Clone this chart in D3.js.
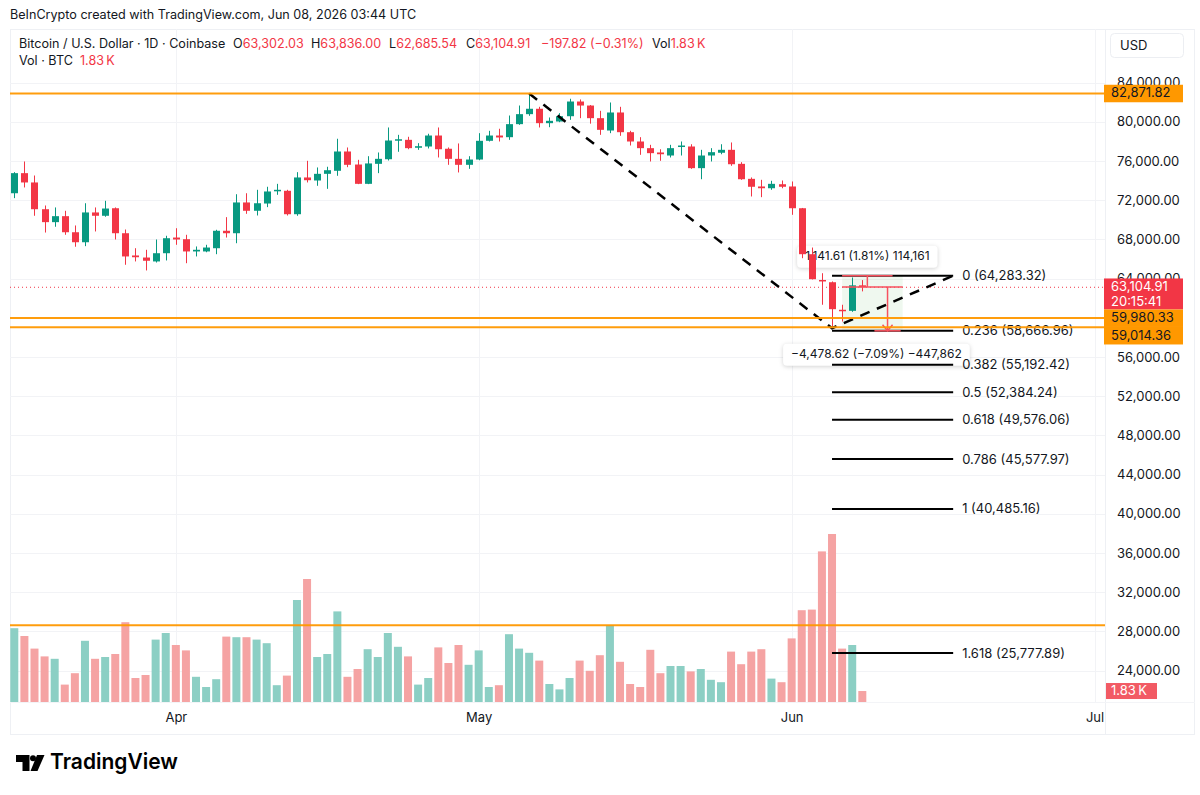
<!DOCTYPE html>
<html>
<head>
<meta charset="utf-8">
<script src="https://cdn.jsdelivr.net/npm/d3@7"></script>
<style>
  body { margin: 0; background: #fff; }
  svg { display: block; font-family: Inter, Roboto, "Noto Sans", sans-serif; }
</style>
</head>
<body>
<div id="chart"></div>
<script>
// daily candles, BTC/USD Coinbase, from Mar 16 2026 to Jun 08 2026
const startDate = Date.UTC(2026, 2, 16);
const opens = [72700,74750,73800,71070,69750,70360,68720,67700,70740,70400,71170,68620,66350,66140,65740,66580,68180,68010,66760,66760,
  67090,68870,68620,71760,70910,71650,72950,72950,70560,74310,74000,74680,74990,76960,75630,73660,75700,76170,78080,78150,
  77340,77470,78590,77240,76210,75600,76140,78050,78590,78420,79750,80770,81320,79850,80020,80560,82060,81650,80360,79100,
  80940,78930,77980,77300,76860,76550,77470,77470,75260,76550,76830,77130,75700,74170,73390,73210,73620,73390,71170,66480,
  63850,63620,60810,60700,63302.03];
const highs = [74850,75940,74510,71450,71250,70910,69410,71680,71250,71930,71250,69000,67090,66930,67980,68360,69130,68460,67270,67440,
  68970,70260,72600,72700,73050,73360,73660,73050,74850,76010,75330,75400,78260,77370,76110,76480,76860,79410,78660,78460,
  77810,78770,79410,77370,77780,76480,78830,79070,79280,80630,81650,82871.82,81520,80430,80870,82340,82270,81700,81110,81960,
  81520,79070,78420,77640,77190,77640,77980,77700,77130,77300,77700,77880,75870,74310,74070,73970,74000,73900,71200,67160,
  64540,63700,61320,64100,63836];
const lows = [72200,73290,70400,68690,69280,68460,67240,67300,68800,70300,67980,65400,65740,64820,65630,65840,67440,65560,66250,66680,
  66480,68180,67600,70600,70430,71280,72540,70430,70400,73800,73460,73150,74480,75360,73630,73630,74750,76040,76930,77190,
  77130,77270,76350,75600,74820,75190,76070,77980,77980,78150,79680,80600,79410,79440,79950,80190,80360,79800,78660,78830,
  78560,77570,76620,75940,76010,76350,76550,75190,74130,75940,76680,75500,74070,72370,72300,73050,73210,70500,66070,63900,
  61320,58930,59610,60600,62685.54];
const closes = [74750,73800,71070,69750,70360,68720,67700,70740,70400,71140,68620,66250,66170,65810,66580,68110,67980,66760,66930,67160,
  68870,68620,71760,70910,71680,72880,73050,70560,74310,74030,74680,75050,76960,75600,73660,75740,76210,78080,78210,77300,
  77500,78590,77190,76210,75600,76140,78050,78590,78390,79750,80770,81320,79850,80090,80560,82060,81650,80360,79170,80940,
  78930,77980,77300,76790,76680,77300,77570,75260,76550,76890,77130,75660,74130,73360,73210,73660,73360,71170,66480,63930,
  63750,60870,60740,63302.03,63104.91];
// volume in thousands of BTC
const volumes = [12.3,11.0,8.9,7.6,7.2,2.9,4.8,10.2,7.2,7.5,8.0,13.3,4.0,4.5,10.4,11.5,9.5,8.6,4.2,2.5,
  3.8,10.9,10.8,10.8,10.4,9.8,2.8,4.4,17.0,20.5,7.5,8.0,15.1,4.2,5.5,8.8,7.5,11.5,9.2,7.6,
  2.9,4.0,9.1,6.5,9.5,6.2,8.6,2.5,2.8,11.3,8.9,8.2,6.9,3.0,2.1,4.0,6.9,5.2,7.8,12.8,
  6.7,3.0,2.5,8.7,4.8,6.0,6.0,5.1,5.5,3.7,3.3,8.4,6.3,8.4,8.8,3.9,3.3,10.6,15.3,15.4,
  25.1,28.0,8.9,9.5,1.83];

const priceTicks = [84000,80000,76000,72000,68000,64000,56000,52000,48000,44000,40000,36000,32000,28000,24000];
const orangeLevels = [82871.82, 59980.33, 59014.36, 28610];
const labelledOrange = [82871.82, 59980.33, 59014.36];
const fibRatios = ["0","0.236","0.382","0.5","0.618","0.786","1","1.618"];
const fibPrices = [64283.32,58666.96,55192.42,52384.24,49576.06,45577.97,40485.16,25777.89];
const fibSpan = [81, 93]; // candle index where the fib drawing starts / ends
const swingPoints = [[51, 82871.82], [81, 58929], [93, 64283.32]];
const lastPrice = 63104.91;
const measureMid = 63141.71;
const measureTexts = ["1,141.61 (1.81%) 114,161", "\u22124,478.62 (\u22127.09%) \u2212447,862"];

const width = 1200, height = 795;
const margin = {left: 10, right: 1105, top: 29, bottom: 702};
const green = "#089981", red = "#f23645", orange = "#ff9800", ink = "#131722";
const fs = 13, fsText = 12.6;

const dates = opens.map((_, i) => new Date(startDate + i * 864e5));
const dayAt = i => new Date(startDate + i * 864e5);

const svg = d3.select("#chart").append("svg")
  .attr("width", width).attr("height", height);

const x = d3.scaleUtc()
  .domain([new Date(startDate), new Date(Date.UTC(2026, 6, 1))])
  .range([14.3, 1094.5]);
const y = d3.scaleLinear().domain([24000, 84000]).range([670.5, 82.5]);
const vy = d3.scaleLinear().domain([0, 28]).range([702, 534]);
const fmt = d3.format(",.2f");

// frame
svg.append("rect").attr("x", 10.5).attr("y", 29.5).attr("width", 1184).attr("height", 705)
  .attr("fill", "none").attr("stroke", "#eef0f4");
svg.append("line").attr("x1", 1105.5).attr("x2", 1105.5).attr("y1", 29).attr("y2", 735).attr("stroke", "#eef0f4");
svg.append("line").attr("x1", 10).attr("x2", 1195).attr("y1", 702.5).attr("y2", 702.5).attr("stroke", "#f3f4f7");

// grid
const grid = svg.append("g");
grid.selectAll(".hg").data(priceTicks).join("line")
  .attr("x1", margin.left).attr("x2", margin.right)
  .attr("y1", d => Math.round(y(d)) + 0.5).attr("y2", d => Math.round(y(d)) + 0.5)
  .attr("stroke", "#f2f3f6");
const months = d3.utcMonth.range(new Date(Date.UTC(2026, 3, 1)), new Date(Date.UTC(2026, 6, 2)));
grid.selectAll(".vg").data(months).join("line")
  .attr("x1", d => Math.round(x(d)) + 0.5).attr("x2", d => Math.round(x(d)) + 0.5)
  .attr("y1", margin.top).attr("y2", margin.bottom)
  .attr("stroke", "#f2f3f6");

// volume
svg.append("g").selectAll("rect").data(volumes).join("rect")
  .attr("x", (d, i) => x(dates[i]) - 4)
  .attr("width", 8)
  .attr("y", d => vy(d))
  .attr("height", d => vy(0) - vy(d))
  .attr("fill", (d, i) => closes[i] >= opens[i] ? "#8ccfc4" : "#f5a3a3");

// measure tool
const meas = svg.append("g");
meas.append("rect")
  .attr("x", x(dayAt(82))).attr("width", x(dayAt(88)) - x(dayAt(82)))
  .attr("y", y(64283.32)).attr("height", y(58663) - y(64283.32))
  .attr("fill", "rgba(76,175,80,0.09)");
const boxes = [[84.5, 64283.32, -19], [85.4, 58663, 24]];
boxes.forEach(([ci, p, dy], k) => {
  const g = meas.append("g");
  const t = g.append("text").attr("x", x(dayAt(ci))).attr("y", y(p) + dy)
    .attr("text-anchor", "middle").attr("dominant-baseline", "middle")
    .attr("font-size", 12).attr("fill", ink).text(measureTexts[k]);
  const w = t.node().getComputedTextLength() + 16;
  g.insert("rect", "text").attr("x", x(dayAt(ci)) - w / 2).attr("y", y(p) + dy - 11)
    .attr("width", w).attr("height", 22).attr("rx", 4).attr("fill", "#fff")
    .style("filter", "drop-shadow(0 1px 2px rgba(0,0,0,0.18))");
});

// candles
const candles = svg.append("g").selectAll("g").data(dates).join("g")
  .attr("fill", (d, i) => closes[i] >= opens[i] ? green : red)
  .attr("stroke", (d, i) => closes[i] >= opens[i] ? green : red);
candles.append("line")
  .attr("x1", d => Math.round(x(d)) + 0.5).attr("x2", d => Math.round(x(d)) + 0.5)
  .attr("y1", (d, i) => y(highs[i])).attr("y2", (d, i) => y(lows[i]))
  .attr("stroke-width", 1);
candles.append("rect")
  .attr("x", d => Math.round(x(d)) - 3)
  .attr("width", 7)
  .attr("y", (d, i) => y(Math.max(opens[i], closes[i])))
  .attr("height", (d, i) => Math.max(1.5, Math.abs(y(opens[i]) - y(closes[i]))))
  .attr("stroke", "none");

// current price dotted line
svg.append("line").attr("x1", margin.left).attr("x2", margin.right)
  .attr("y1", y(lastPrice)).attr("y2", y(lastPrice))
  .attr("stroke", red).attr("stroke-dasharray", "1,3");

// fib levels
const fib = svg.append("g");
fib.selectAll("line").data(fibPrices).join("line")
  .attr("x1", x(dayAt(fibSpan[0]))).attr("x2", x(dayAt(fibSpan[1])))
  .attr("y1", d => y(d)).attr("y2", d => y(d))
  .attr("stroke", "#000").attr("stroke-width", 2);
fib.selectAll("text").data(fibPrices).join("text")
  .attr("x", x(dayAt(fibSpan[1])) + 9).attr("y", d => y(d) + 1)
  .attr("dominant-baseline", "middle").attr("font-size", fs).attr("fill", ink)
  .text((d, i) => `${fibRatios[i]} (${fmt(d)})`);

// measure red lines
const mr = svg.append("g").attr("stroke", "#f7525f").attr("stroke-width", 1.5).attr("fill", "none");
mr.append("line").attr("x1", x(dayAt(82))).attr("x2", x(dayAt(87)))
  .attr("y1", y(64283.32)).attr("y2", y(64283.32));
mr.append("line").attr("x1", x(dayAt(82))).attr("x2", x(dayAt(88)))
  .attr("y1", y(measureMid)).attr("y2", y(measureMid));
mr.append("line").attr("x1", x(dayAt(84.5))).attr("x2", x(dayAt(84.5)))
  .attr("y1", y(64283.32)).attr("y2", y(measureMid));
mr.append("line").attr("x1", x(dayAt(86.5))).attr("x2", x(dayAt(86.5)))
  .attr("y1", y(measureMid)).attr("y2", y(58663));
mr.append("path").attr("d", `M${x(dayAt(86.5)) - 5},${y(58663) - 6} L${x(dayAt(86.5))},${y(58663)} L${x(dayAt(86.5)) + 5},${y(58663) - 6}`);
mr.append("line").attr("x1", x(dayAt(85.2))).attr("x2", x(dayAt(87.8)))
  .attr("y1", y(58663)).attr("y2", y(58663));

// dashed swing line
svg.append("path")
  .datum(swingPoints)
  .attr("d", d3.line().x(d => x(dayAt(d[0]))).y(d => y(d[1])))
  .attr("fill", "none").attr("stroke", "#000").attr("stroke-width", 2.5)
  .attr("stroke-dasharray", "10,8");

// orange horizontal levels
svg.append("g").selectAll("line").data(orangeLevels).join("line")
  .attr("x1", margin.left).attr("x2", margin.right)
  .attr("y1", d => y(d)).attr("y2", d => y(d))
  .attr("stroke", orange).attr("stroke-width", 2).attr("stroke-opacity", 0.95);

// price axis
const yAxis = d3.axisRight(y).tickValues(priceTicks).tickFormat(fmt).tickSize(0).tickPadding(12);
svg.append("g").attr("transform", `translate(${margin.right},0)`).call(yAxis)
  .call(g => g.select(".domain").remove())
  .call(g => g.selectAll("text").attr("font-size", fs).attr("fill", ink).attr("font-family", "Inter, Roboto, sans-serif"));

// time axis
const xAxis = d3.axisBottom(x).tickValues(months).tickFormat(d3.utcFormat("%b")).tickSize(0).tickPadding(11);
svg.append("g").attr("transform", `translate(0,${margin.bottom})`).call(xAxis)
  .call(g => g.select(".domain").remove())
  .call(g => g.selectAll("text").attr("font-size", fs).attr("fill", ink).attr("font-family", "Inter, Roboto, sans-serif"));

// axis price tags, stacked so they do not cover each other
const tagList = [
  {p: 82871.82, fill: orange, color: ink, lines: [fmt(82871.82)]},
  {p: lastPrice, fill: red, color: "#fff", lines: [fmt(lastPrice), "20:15:41"]},
  ...labelledOrange.slice(1).map(p => ({p, fill: orange, color: ink, lines: [fmt(p)]}))
];
let prevBottom = -Infinity;
tagList.sort((a, b) => b.p - a.p).forEach(t => {
  t.h = t.lines.length > 1 ? 31 : 17.5;
  t.top = Math.max(y(t.p) - 8.8, prevBottom);
  prevBottom = t.top + t.h;
});
const tags = svg.append("g");
tagList.forEach(t => {
  tags.append("rect").attr("x", 1104).attr("y", t.top).attr("width", 79).attr("height", t.h).attr("fill", t.fill);
  t.lines.forEach((s, k) => {
    tags.append("text").attr("x", 1111).attr("y", t.top + 9 + k * 14.5).attr("dominant-baseline", "middle")
      .attr("font-size", fs).attr("fill", t.color).text(s);
  });
});
tags.append("rect").attr("x", 1106).attr("y", vy(volumes[84]) - 8).attr("width", 51).attr("height", 16).attr("fill", "#f25a64");
tags.append("text").attr("x", 1111).attr("y", vy(volumes[84])).attr("dominant-baseline", "middle")
  .attr("font-size", fs).attr("fill", "#fff").text("1.83\u2009K");

// USD box
svg.append("rect").attr("x", 1110.5).attr("y", 33.5).attr("width", 73).attr("height", 24).attr("rx", 4)
  .attr("fill", "#fff").attr("stroke", "#eceef2");
svg.append("text").attr("x", 1120).attr("y", 46).attr("dominant-baseline", "middle")
  .attr("font-size", fs).attr("fill", ink).text("USD");

// header and legend
svg.append("text").attr("x", 10).attr("y", 16).attr("dominant-baseline", "middle")
  .attr("font-size", fsText).attr("fill", ink)
  .text("BeInCrypto created with TradingView.com, Jun 08, 2026 03:44 UTC");

const legend = [
  [19, "Bitcoin / U.S. Dollar \u00b7 1D \u00b7 Coinbase", null],
  [233, "O", "63,302.03"], [311, "H", "63,836.00"], [389, "L", "62,685.54"], [466, "C", "63,104.91"],
  [541, null, "\u2212197.82 (\u22120.31%)"], [652, "Vol", "1.83\u2009K"]
];
const l1 = svg.append("text").attr("y", 45).attr("dominant-baseline", "middle").attr("font-size", fsText);
legend.forEach(([lx, lab, val]) => {
  if (lab) l1.append("tspan").attr("x", lx).attr("fill", ink).text(lab);
  if (val) {
    const t = l1.append("tspan").attr("fill", red).text(val);
    if (!lab) t.attr("x", lx);
  }
});
const l2 = svg.append("text").attr("y", 62).attr("dominant-baseline", "middle").attr("font-size", fsText);
l2.append("tspan").attr("x", 19).attr("fill", ink).text("Vol \u00b7 BTC");
l2.append("tspan").attr("x", 80).attr("fill", red).text("1.83\u2009K");

// TradingView logo
const logo = svg.append("g").attr("fill", "#000");
logo.append("path").attr("d", "M16,755 H29.5 V771 H22.5 V762 H16 Z");
logo.append("circle").attr("cx", 33).attr("cy", 758.3).attr("r", 3);
logo.append("path").attr("d", "M37,755 H44.5 L37.5,771 H30.5 Z");
svg.append("text").attr("x", 50).attr("y", 763).attr("dominant-baseline", "middle")
  .attr("font-family", "Inter, Roboto, sans-serif").attr("font-weight", 600)
  .attr("font-size", 22).attr("textLength", 128).attr("lengthAdjust", "spacingAndGlyphs")
  .attr("fill", "#000").text("TradingView");
</script>
</body>
</html>
